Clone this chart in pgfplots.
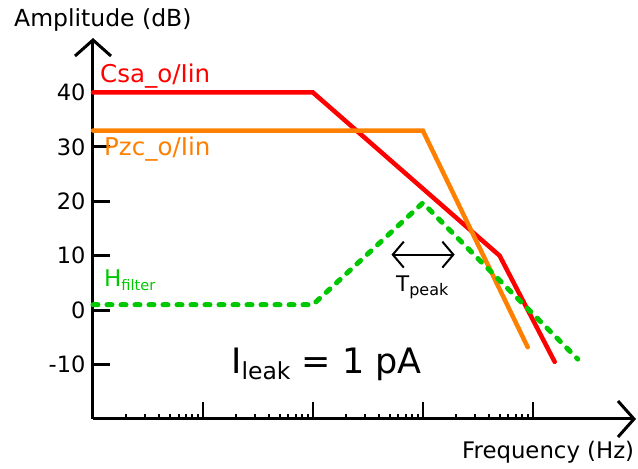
\documentclass[border=0pt]{standalone}
\usepackage{fontspec}
\setmainfont{DejaVu Sans}
\usepackage{pgfplots}
\pgfplotsset{compat=1.18}
\usetikzlibrary{arrows.meta}
\definecolor{cred}{HTML}{FF0000}
\definecolor{corange}{HTML}{FF8000}
\definecolor{cgreen}{HTML}{00C800}
\begin{document}
\begin{tikzpicture}
\useasboundingbox (-93pt,-50pt) rectangle (545pt,419pt);
\begin{axis}[
  at={(0pt,0pt)}, anchor=south west,
  scale only axis, width=543pt, height=381pt,
  xmode=log, xmin=1, xmax=87000, ymin=-20, ymax=50,
  axis lines=left,
  axis line style={line width=3pt, -{Straight Barb[length=16pt,width=36pt]}},
  clip=false,
  ytick={-10,0,10,20,30,40},
  xtick={10,100,1000,10000}, xticklabels={},
  minor xtick={2,3,4,5,6,7,8,9,20,30,40,50,60,70,80,90,200,300,400,500,600,700,800,900,2000,3000,4000,5000,6000,7000,8000,9000},
  tick align=inside,
  major tick length=17pt, minor tick length=5pt,
  ytick style={line width=3pt, black},
  xtick style={line width=2pt, black},
  minor tick style={line width=2pt, black},
  /pgf/number format/assume math mode=true,
  yticklabel style={font=\fontsize{22.5}{25}\selectfont, xshift=-4pt},
]
\addplot[cred, line width=4.5pt, line cap=round] coordinates {(1,40) (100,40) (5000,10) (15850,-9.5)};
\addplot[corange, line width=4.5pt, line cap=round] coordinates {(1,33) (1000,33) (9000,-6.8)};
\addplot[cgreen, line width=5pt, line cap=round, dash pattern=on 5pt off 9pt] coordinates {(1,1) (100,1) (1000,19.7) (25700,-9)};
\draw[line width=2pt, {Straight Barb[length=11pt,width=26pt]}-{Straight Barb[length=11pt,width=26pt]}] (axis cs:519,10.2) -- (axis cs:1950,10.2);
\end{axis}
\node[anchor=base west, inner sep=0pt, font=\fontsize{23.5}{27}\selectfont] at (-79pt,392.3pt) {Amplitude (dB)};
\node[anchor=base west, inner sep=0pt, font=\fontsize{22.8}{27}\selectfont] at (369pt,-39pt) {Frequency (Hz)};
\node[anchor=base west, inner sep=0pt, text=cred, font=\fontsize{24.5}{28}\selectfont] at (7pt,336.3pt) {Csa\_o/Iin};
\node[anchor=base west, inner sep=0pt, text=corange, font=\fontsize{24.5}{28}\selectfont] at (11pt,263pt) {Pzc\_o/Iin};
\node[anchor=base west, inner sep=0pt, text=cgreen, font=\fontsize{23}{27}\selectfont] at (11pt,132pt) {H\raisebox{-3.5pt}{\fontsize{14.5}{15}\selectfont filter}};
\node[anchor=base west, inner sep=0pt, font=\fontsize{21.5}{25}\selectfont] at (303pt,127.3pt) {T\raisebox{-3.5pt}{\fontsize{16}{16}\selectfont peak}};
\node[anchor=base west, inner sep=0pt, font=\fontsize{35}{40}\selectfont] at (138pt,45.7pt) {I\raisebox{-6pt}{\fontsize{23.5}{24}\selectfont leak} = 1 pA};
\end{tikzpicture}
\end{document}
